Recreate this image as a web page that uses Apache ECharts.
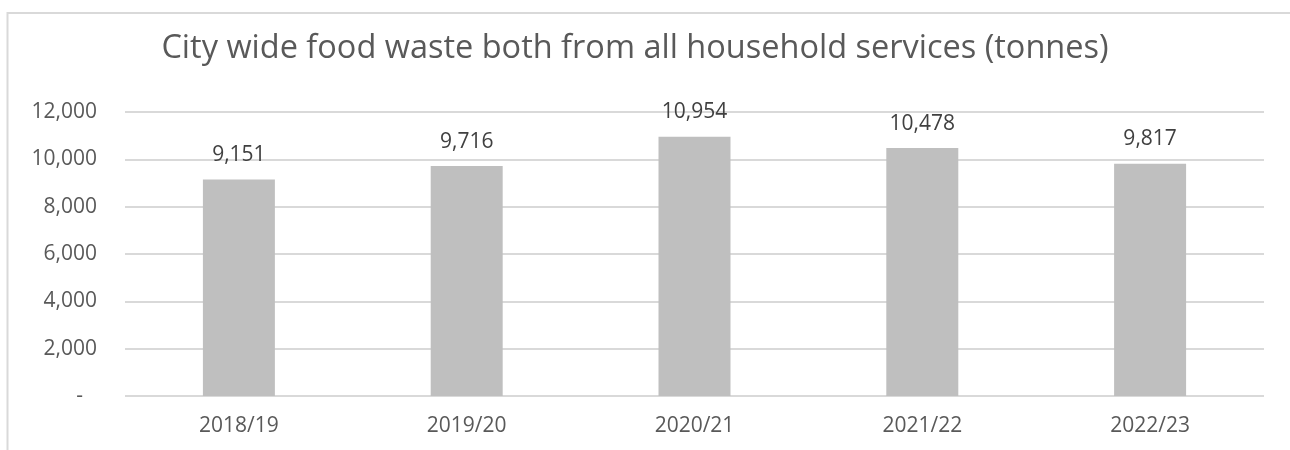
<!DOCTYPE html>
<html><head><meta charset="utf-8">
<script src="https://cdn.jsdelivr.net/npm/echarts@6/dist/echarts.min.js"></script>
<style>html,body{margin:0;padding:0;background:#fff}#c{width:1290px;height:450px}</style>
</head><body><div id="c"></div>
<script>
const titleText = 'City wide food waste both from all household services (tonnes)';
const categories = ['2018/19','2019/20','2020/21','2021/22','2022/23'];
const values = [9151, 9716, 10954, 10478, 9817];
const yTicks = {min:0, max:12000, interval:2000};

const fmt = v => v === 0 ? '{d|-}' : v.toLocaleString('en-US');
const FONT = '"Open Sans", "Noto Sans", sans-serif';
const chart = echarts.init(document.getElementById('c'), null, {renderer:'canvas'});
chart.setOption({
  animation:false,
  textStyle:{fontFamily:FONT},
  graphic:[{type:'rect', shape:{x:7.5,y:13,width:1400,height:500}, style:{fill:'none', stroke:'#d9d9d9', lineWidth:2}, z:-1}],
  title:{text:titleText, left:630, textAlign:'center', top:27,
    textStyle:{fontFamily:FONT, fontSize:32.5, fontWeight:'normal', color:'#595959'}},
  grid:{left:125, right:26, top:112, bottom:54, containLabel:false},
  xAxis:{type:'category', data:categories,
    axisLine:{show:false}, axisTick:{show:false},
    axisLabel:{color:'#595959', fontSize:21, margin:20, fontFamily:FONT}},
  yAxis:{type:'value', min:yTicks.min, max:yTicks.max, interval:yTicks.interval,
    axisLine:{show:false}, axisTick:{show:false},
    splitLine:{lineStyle:{color:'#d9d9d9', width:2}},
    axisLabel:{color:'#595959', fontSize:21, margin:28, fontFamily:FONT,
      formatter: fmt, rich:{d:{fontSize:21, color:'#595959', padding:[0,14,0,0], fontFamily:FONT}}}},
  series:[{type:'bar', data:values, barWidth:'31.6%',
    itemStyle:{color:'#bfbfbf'},
    label:{show:true, position:'top', distance:14, color:'#404040', fontSize:21, fontFamily:FONT,
      formatter: p => p.value.toLocaleString('en-US')}}]
});
</script></body></html>
